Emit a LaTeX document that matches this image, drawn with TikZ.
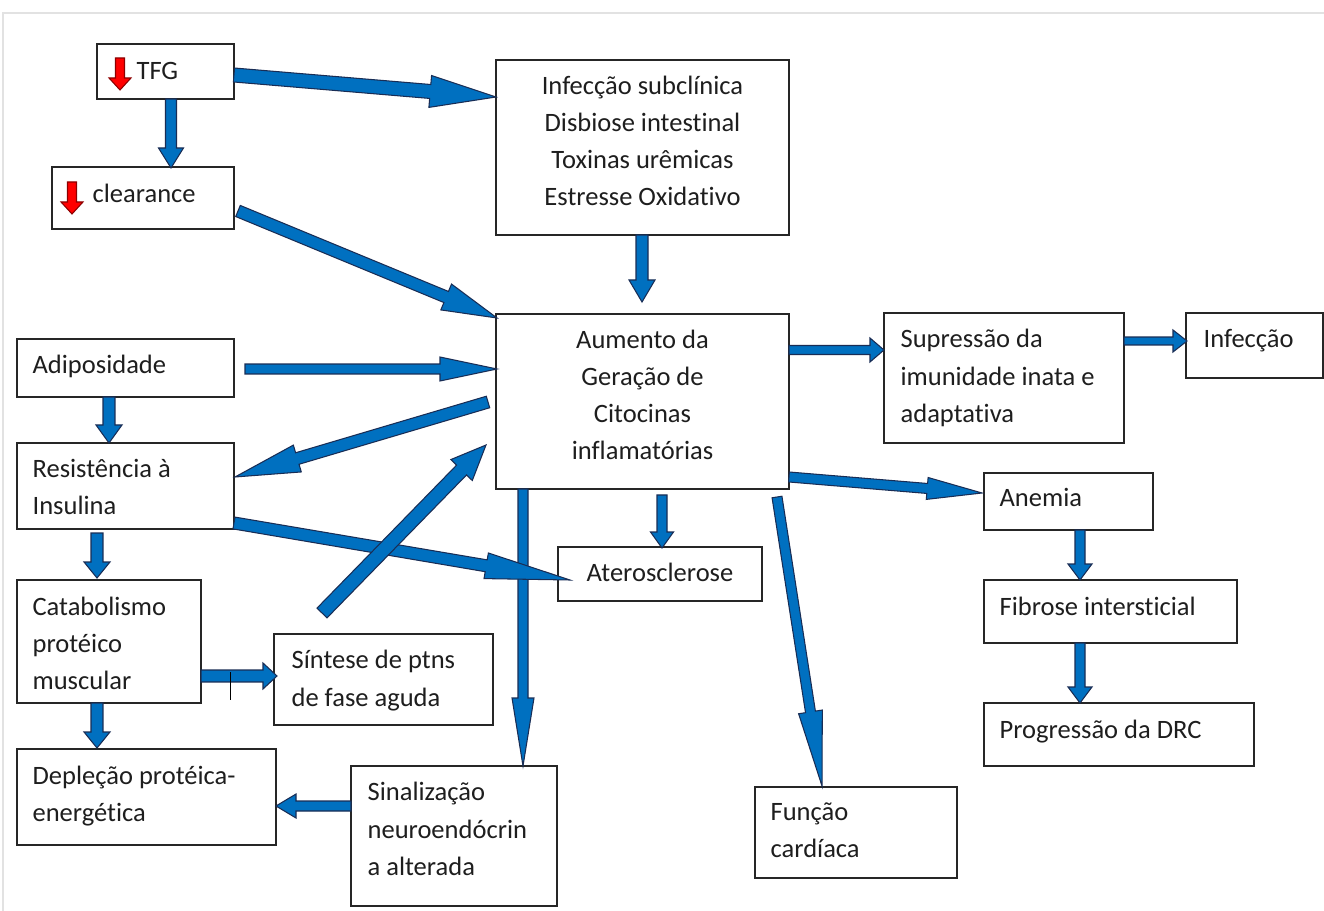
\documentclass[tikz,border=0pt]{standalone}
\usepackage{fontspec}
\setmainfont{Carlito}[Ligatures={NoCommon}]
\usetikzlibrary{calc,fit}
\definecolor{ablue}{RGB}{0,112,192}
\definecolor{aedge}{RGB}{25,45,85}
\definecolor{framegray}{RGB}{226,226,226}
\definecolor{txtgray}{RGB}{30,30,30}
\tikzset{
  box/.style={draw=black!85, line width=0.85pt, fill=white, inner sep=0pt},
  txt/.style={inner sep=0pt, text=txtgray, font=\fontsize{15.1}{21.2}\selectfont},
  arrowshape/.style={draw=aedge, line width=0.6pt, fill=ablue, line join=miter},
  redarrow/.style={fill=red, draw=red!55!black},
}
% box: name, x1,y1,x2,y2, left inset (or -1 for centered), text y-offset, text
\newcommand\bx[8]{%
  \node[box, fit={(#2,#3) (#4,#5)}] (#1) {};
  \ifnum#6<0
    \node[txt, align=center] (#1-t) at ($(#1.center)+(0,#7)$) {#8};
  \else
    \node[txt, align=left, anchor=west] (#1-t) at ($(#1.west)+(#6,#7)$) {#8};
  \fi}
% block arrow: [style] from, to, shaft width, head width, head length (px)
\newcommand\barrow[6][]{%
  \coordinate (ba-n) at ($(#3)!{#6*0.02cm}!(#2)$);
  \draw[arrowshape,#1] ($(#2)!{#4*0.01cm}!90:(#3)$) -- ($(ba-n)!{#4*0.01cm}!90:(#3)$)
    -- ($(ba-n)!{#5*0.01cm}!90:(#3)$) -- (#3) -- ($(ba-n)!{#5*0.01cm}!-90:(#3)$)
    -- ($(ba-n)!{#4*0.01cm}!-90:(#3)$) -- ($(#2)!{#4*0.01cm}!-90:(#3)$) -- cycle;}
\begin{document}
\begin{tikzpicture}[x=0.02cm, y=-0.02cm]
\useasboundingbox (0,0) rectangle (1324,911);
\fill[white] (0,0) rectangle (1324,911);
\draw[framegray, line width=1.2pt] (3,911) -- (3,13) -- (1324,13);

% boxes
\bx{tfg}{97}{44}{234}{99}{40}{-1}{TFG}
\bx{clr}{52}{167}{234}{229}{41}{-5}{clearance}
\bx{inf}{496}{60}{789}{235}{-1}{-6.5}{Infecção subclínica\\Disbiose intestinal\\Toxinas urêmicas\\Estresse Oxidativo}
\bx{cit}{496}{314}{789}{489}{-1}{-6.5}{Aumento da\\Geração de\\Citocinas\\inflamatórias}
\bx{adi}{17}{339}{234}{397}{16}{-2}{Adiposidade}
\bx{res}{17}{443}{234}{529}{16}{1}{Resistência à\\Insulina}
\bx{cat}{17}{580}{201}{703}{16}{2}{Catabolismo\\protéico\\muscular}
\bx{sin}{274}{634}{493}{725}{18}{1}{Síntese de ptns\\de fase aguda}
\bx{dep}{17}{749}{276}{845}{16}{-1}{Depleção protéica-\\energética}
\bx{sna}{351}{766}{557}{906}{17}{-7}{Sinalização\\neuroendócrin\\a alterada}
\bx{ate}{558}{547}{762}{601}{-1}{-2}{Aterosclerose}
\bx{fun}{755}{787}{957}{878}{16}{-2}{Função\\cardíaca}
\bx{sup}{884}{313}{1124}{443}{17}{0}{Supressão da\\imunidade inata e\\adaptativa}
\bx{ifc}{1186}{313}{1323}{378}{18}{-5}{Infecção}
\bx{ane}{984}{473}{1153}{530}{16}{-4}{Anemia}
\bx{fib}{984}{580}{1237}{643}{16}{-5}{Fibrose intersticial}
\bx{pro}{984}{703}{1254}{766}{16}{-3}{Progressão da DRC}

% connector end points
\coordinate (a1s) at (234,75);   \coordinate (a1e) at (496,97);
\coordinate (a2s) at (171,99);   \coordinate (a2e) at (171,168);
\coordinate (a3s) at (238,211);  \coordinate (a3e) at (497,318);
\coordinate (a4s) at (642,235);  \coordinate (a4e) at (642,302);
\coordinate (a5s) at (245,369);  \coordinate (a5e) at (497,369);
\coordinate (a6s) at (488,402);  \coordinate (a6e) at (235,477);
\coordinate (a7s) at (109,397);  \coordinate (a7e) at (109,443);
\coordinate (a8s) at (234,523);  \coordinate (a8e) at (570,580);
\coordinate (a9s) at (322,613);  \coordinate (a9e) at (486,445);
\coordinate (a10s) at (97,533);  \coordinate (a10e) at (97,578);
\coordinate (a11s) at (201,676); \coordinate (a11e) at (277,676);
\coordinate (a12s) at (97,703);  \coordinate (a12e) at (97,748);
\coordinate (a13s) at (523,489); \coordinate (a13e) at (523,766);
\coordinate (a14s) at (351,806); \coordinate (a14e) at (276,806);
\coordinate (a15s) at (662,495); \coordinate (a15e) at (662,548);
\coordinate (a16s) at (777,497); \coordinate (a16e) at (822,786);
\coordinate (a17s) at (789,477); \coordinate (a17e) at (982,493);
\coordinate (a18s) at (789,350); \coordinate (a18e) at (884,350);
\coordinate (a19s) at (1124,341); \coordinate (a19e) at (1187,341);
\coordinate (a20s) at (1080,530); \coordinate (a20e) at (1080,580);
\coordinate (a21s) at (1080,643); \coordinate (a21e) at (1080,703);
\coordinate (r1s) at (120,58);   \coordinate (r1e) at (120,90);
\coordinate (r2s) at (72,182);   \coordinate (r2e) at (72,214);
\coordinate (tk1) at (230,672);  \coordinate (tk2) at (230,700);

% connectors
\barrow{a1s}{a1e}{14}{32}{66}
\barrow{a2s}{a2e}{11}{25}{20}
\barrow{a3s}{a3e}{12}{28}{55}
\barrow{a4s}{a4e}{12}{26}{22}
\barrow{a5s}{a5e}{10}{24}{57}
\barrow{a6s}{a6e}{12}{28}{65}
\barrow{a7s}{a7e}{12}{26}{18}
\barrow{a13s}{a13e}{10}{22}{68}
\barrow{a8s}{a8e}{12}{26}{85}
\barrow{a9s}{a9e}{14}{30}{35}
\barrow{a10s}{a10e}{12}{26}{16}
\barrow{a11s}{a11e}{12}{26}{14}
\barrow{a12s}{a12e}{12}{26}{16}
\barrow{a14s}{a14e}{10}{24}{20}
\barrow{a15s}{a15e}{10}{23}{16}
\barrow{a16s}{a16e}{10}{24}{75}
\barrow{a17s}{a17e}{10}{22}{55}
\barrow{a18s}{a18e}{9}{24}{14}
\barrow{a19s}{a19e}{8}{22}{14}
\barrow{a20s}{a20e}{10}{24}{16}
\barrow{a21s}{a21e}{10}{24}{16}
\barrow[redarrow]{r1s}{r1e}{9}{22}{12}
\barrow[redarrow]{r2s}{r2e}{9}{22}{12}
\draw[black, line width=0.5pt] (tk1) -- (tk2);
\end{tikzpicture}
\end{document}
